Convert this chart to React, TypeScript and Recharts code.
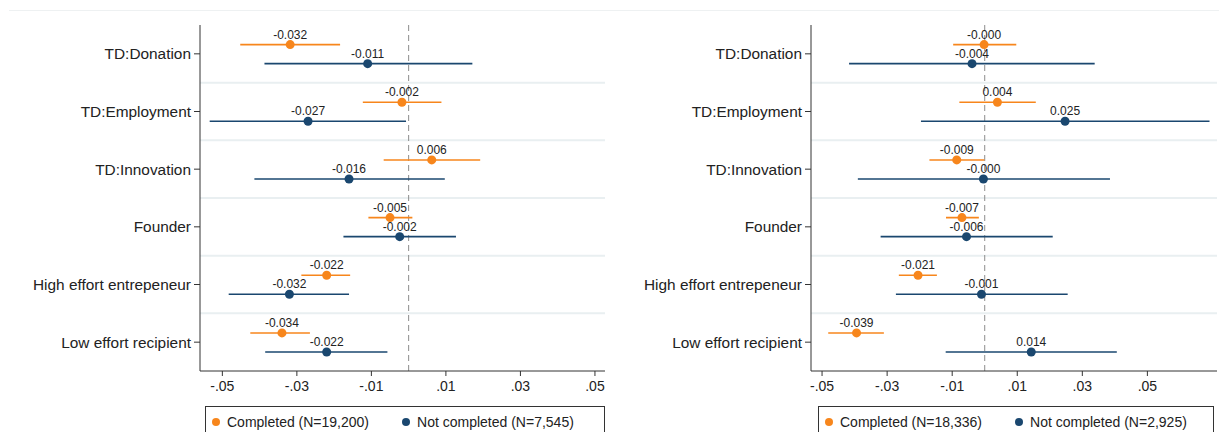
import React from 'react';
import { ScatterChart, Scatter, XAxis, YAxis, ErrorBar, ReferenceLine } from 'recharts';

const CATEGORIES = [
  'TD:Donation',
  'TD:Employment',
  'TD:Innovation',
  'Founder',
  'High effort entrepeneur',
  'Low effort recipient',
];

const X_TICKS = [-0.05, -0.03, -0.01, 0.01, 0.03, 0.05];

// left panel
const LEFT_DONE = [-0.0318, -0.0018, 0.0062, -0.005, -0.022, -0.034];
const LEFT_DONE_LO = [-0.0452, -0.0123, -0.0067, -0.0108, -0.0288, -0.0425];
const LEFT_DONE_HI = [-0.0184, 0.0088, 0.0192, 0.001, -0.0157, -0.0265];
const LEFT_NOT = [-0.011, -0.027, -0.016, -0.0024, -0.032, -0.022];
const LEFT_NOT_LO = [-0.0387, -0.0534, -0.0414, -0.0175, -0.0483, -0.0385];
const LEFT_NOT_HI = [0.0171, -0.0007, 0.0097, 0.0127, -0.016, -0.0057];

// right panel
const RIGHT_DONE = [-0.0002, 0.0039, -0.0086, -0.007, -0.0205, -0.0394];
const RIGHT_DONE_LO = [-0.0097, -0.0078, -0.017, -0.0119, -0.0264, -0.0481];
const RIGHT_DONE_HI = [0.0097, 0.0157, -0.0001, -0.0018, -0.0147, -0.031];
const RIGHT_NOT = [-0.0039, 0.0247, -0.0004, -0.0056, -0.001, 0.0143];
const RIGHT_NOT_LO = [-0.0417, -0.0196, -0.039, -0.032, -0.0273, -0.012];
const RIGHT_NOT_HI = [0.0338, 0.0691, 0.0385, 0.0209, 0.0255, 0.0406];

const ORANGE = '#f7861c';
const NAVY = '#1a476f';
const FONT = '"Liberation Sans", Arial, sans-serif';

function buildPoints(coef: number[], lo: number[], hi: number[], shift: number) {
  return coef.map((c, i) => ({
    x: c,
    y: i + 1 + shift,
    err: [c - lo[i], hi[i] - c],
    label: c.toFixed(3),
  }));
}

const fmtTick = (v: number) => (v < 0 ? '-' : '') + Math.abs(v).toFixed(2).replace(/^0/, '');

function makeDot(color: string) {
  return (props: any) => {
    const { cx, cy, payload } = props;
    return (
      <g>
        <circle cx={cx} cy={cy} r={4.5} fill={color} />
        <text x={cx} y={cy - 6} textAnchor="middle" fontSize={12} fill="#222" fontFamily={FONT}>
          {payload.label}
        </text>
      </g>
    );
  };
}

interface PanelProps {
  left: number;
  width: number;
  axisWidth: number;
  rightMargin: number;
  domain: [number, number];
  done: any[];
  notDone: any[];
}

function Panel({ left, width, axisWidth, rightMargin, domain, done, notDone }: PanelProps) {
  return (
    <div style={{ position: 'absolute', left, top: 0 }}>
      <ScatterChart
        width={width}
        height={432}
        margin={{ top: 25, right: rightMargin, bottom: 31, left: 0 }}
      >
        <XAxis
          type="number"
          dataKey="x"
          domain={domain}
          allowDataOverflow
          ticks={X_TICKS}
          tickFormatter={fmtTick}
          height={30}
          tickSize={5}
          tickMargin={5}
          axisLine={{ stroke: '#333' }}
          tickLine={{ stroke: '#333' }}
          tick={{ fontSize: 14, fill: '#222', fontFamily: FONT }}
        />
        <YAxis
          type="number"
          dataKey="y"
          domain={[0.5, 6.5]}
          allowDataOverflow
          reversed
          ticks={[1, 2, 3, 4, 5, 6]}
          tickFormatter={(v: number) => CATEGORIES[v - 1]}
          width={axisWidth}
          tickSize={6}
          tickMargin={3}
          axisLine={{ stroke: '#333' }}
          tickLine={{ stroke: '#333' }}
          tick={{ fontSize: 15.4, fill: '#222', fontFamily: FONT }}
        />
        {[1.5, 2.5, 3.5, 4.5, 5.5].map((v) => (
          <ReferenceLine key={v} y={v} stroke="#e9eff1" strokeWidth={2} />
        ))}
        <ReferenceLine x={0} stroke="#8c8c8c" strokeDasharray="6 4" />
        <Scatter data={done} isAnimationActive={false} shape={makeDot(ORANGE)}>
          <ErrorBar dataKey="err" direction="x" width={0} stroke={ORANGE} strokeWidth={1.6} isAnimationActive={false} />
        </Scatter>
        <Scatter data={notDone} isAnimationActive={false} shape={makeDot(NAVY)}>
          <ErrorBar dataKey="err" direction="x" width={0} stroke={NAVY} strokeWidth={1.6} isAnimationActive={false} />
        </Scatter>
      </ScatterChart>
    </div>
  );
}

function LegendBox({ left, width, doneLabel, notLabel }: { left: number; width: number; doneLabel: string; notLabel: string }) {
  const dot = (c: string) => (
    <span style={{ display: 'inline-block', width: 8, height: 8, borderRadius: 4, background: c, marginRight: 7 }} />
  );
  return (
    <div
      style={{
        position: 'absolute',
        left,
        top: 406,
        width,
        height: 40,
        border: '1px solid #333',
        boxSizing: 'border-box',
        paddingTop: 6,
        paddingLeft: 6,
        fontFamily: FONT,
        fontSize: 14,
        lineHeight: '16px',
        color: '#222',
        whiteSpace: 'nowrap',
        background: '#fff',
      }}
    >
      <span style={{ display: 'inline-flex', alignItems: 'center' }}>
        {dot(ORANGE)}
        {doneLabel}
      </span>
      <span style={{ display: 'inline-flex', alignItems: 'center', marginLeft: 33 }}>
        {dot(NAVY)}
        {notLabel}
      </span>
    </div>
  );
}

export default function App() {
  const leftDone = buildPoints(LEFT_DONE, LEFT_DONE_LO, LEFT_DONE_HI, -0.16);
  const leftNot = buildPoints(LEFT_NOT, LEFT_NOT_LO, LEFT_NOT_HI, 0.17);
  const rightDone = buildPoints(RIGHT_DONE, RIGHT_DONE_LO, RIGHT_DONE_HI, -0.16);
  const rightNot = buildPoints(RIGHT_NOT, RIGHT_NOT_LO, RIGHT_NOT_HI, 0.17);

  return (
    <div style={{ position: 'absolute', left: 0, top: 0, width: 1227, height: 432, background: '#fff', overflow: 'hidden' }}>
      <div style={{ position: 'absolute', left: 9, top: 10, width: 1210, height: 1, background: '#eef1f2' }} />
      <Panel left={0} width={614} axisWidth={200} rightMargin={9} domain={[-0.056, 0.0527]} done={leftDone} notDone={leftNot} />
      <Panel left={614} width={613} axisWidth={197} rightMargin={10} domain={[-0.0534, 0.0714]} done={rightDone} notDone={rightNot} />
      <LegendBox left={205} width={400} doneLabel="Completed (N=19,200)" notLabel="Not completed (N=7,545)" />
      <LegendBox left={818} width={396} doneLabel="Completed (N=18,336)" notLabel="Not completed (N=2,925)" />
    </div>
  );
}
